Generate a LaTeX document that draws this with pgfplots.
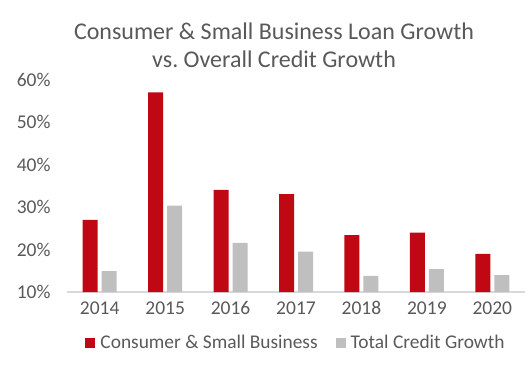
\documentclass[border=0pt]{standalone}
\usepackage{pgfplots}
\pgfplotsset{compat=1.18}
\usepackage{fontspec}
\setmainfont{Carlito}
\frenchspacing
\definecolor{cred}{RGB}{192,8,20}
\definecolor{cgray}{RGB}{191,191,191}
\definecolor{ctext}{RGB}{89,89,89}
\definecolor{cline}{RGB}{217,217,217}
\begin{document}
\begin{tikzpicture}
\begin{axis}[
  at={(0,0)}, anchor=south west,
  scale only axis,
  width=458bp, height=212bp,
  xmin=-0.5, xmax=6.5,
  ymin=10, ymax=60,
  ytick={10,20,30,40,50,60},
  yticklabel={\pgfmathprintnumber{\tick}\%},
  xtick={0,1,2,3,4,5,6},
  xticklabels={2014,2015,2016,2017,2018,2019,2020},
  /pgf/number format/assume math mode=true,
  major tick length=0pt,
  axis x line*=bottom,
  axis y line*=left,
  y axis line style={draw=none},
  x axis line style={draw=cline, line width=1.5bp},
  tick label style={font=\fontsize{19.5bp}{21bp}\selectfont, text=ctext},
  xticklabel style={yshift=-6bp},
  yticklabel style={xshift=-13bp},
  ybar=4bp, bar width=15bp,
  legend columns=2,
  legend style={at={(0.5,-0.2406)}, anchor=center, draw=none, fill=none,
    font=\fontsize{19.4bp}{21bp}\selectfont, text=ctext,
    /tikz/every even column/.append style={column sep=16bp}},
  legend image code/.code={\fill[#1] (0bp,-5bp) rectangle (10bp,5bp); \path (13bp,0bp);},
  title={Consumer \& Small Business Loan Growth\\vs. Overall Credit Growth},
  title style={at={(0.452,1)}, anchor=south, yshift=3bp, align=center,
    font=\fontsize{24bp}{28bp}\selectfont, text=ctext},
]
\addplot[fill=cred, draw=none] coordinates {(0,27.0) (1,57.1) (2,34.1) (3,33.1) (4,23.4) (5,24.0) (6,19.0)};
\addplot[fill=cgray, draw=none] coordinates {(0,14.9) (1,30.4) (2,21.6) (3,19.5) (4,13.8) (5,15.4) (6,14.0)};
\legend{Consumer \& Small Business, Total Credit Growth}
\end{axis}
\pgfresetboundingbox
\useasboundingbox (-67bp,-78bp) rectangle (463bp,292bp);
\end{tikzpicture}
\end{document}
